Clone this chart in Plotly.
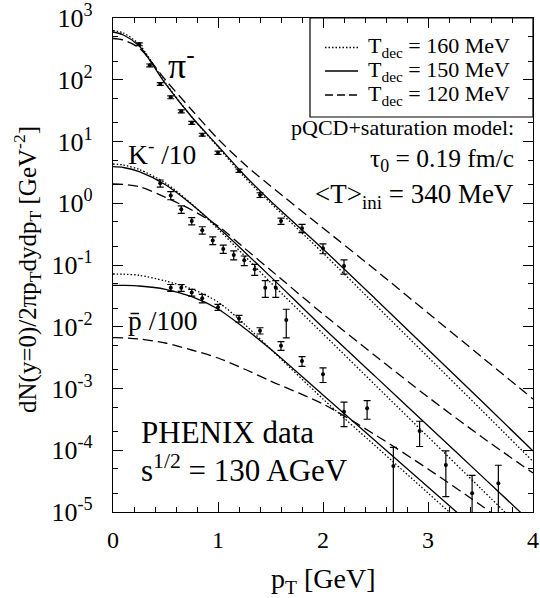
import plotly.graph_objects as go

# ---------------- data ----------------
# PHENIX data points
pi_pt = [0.25, 0.35, 0.45, 0.55, 0.65, 0.75, 0.85, 1.0, 1.2, 1.4, 1.6, 1.8, 2.0, 2.2]
pi_y = [375, 171, 85.3, 52, 30.8, 20.1, 12.9, 6.59, 3.37, 1.36, 0.516, 0.394, 0.186, 0.0964]
pi_err = [20, 9, 4.5, 2.8, 1.7, 1.1, 0.7, 0.4, 0.2, 0.12, 0.06, 0.06, 0.034, 0.025]

k_pt = [0.45, 0.55, 0.65, 0.75, 0.85, 0.95, 1.05, 1.15, 1.25, 1.35, 1.45, 1.55, 1.65]
k_y = [2.10, 1.34, 0.798, 0.516, 0.366, 0.249, 0.182, 0.145, 0.119, 0.0851, 0.0428, 0.0428, 0.0129]
k_err = [0.28, 0.2, 0.11, 0.07, 0.05, 0.036, 0.028, 0.024, 0.021, 0.017, 0.013, 0.013, 0.0063]

pbar_pt = [0.55, 0.65, 0.75, 0.85, 1.0, 1.2, 1.4, 1.6, 1.8, 2.0, 2.2, 2.42, 2.67, 2.92, 3.17, 3.42, 3.67]
pbar_y = [0.0428, 0.0428, 0.0359, 0.0289, 0.0207, 0.0136, 0.00863, 0.00493, 0.00279, 0.00170,
          4.21e-4, 4.78e-4, 5.56e-5, 2.05e-4, 5.77e-5, 2.01e-5, 2.92e-5]
pbar_err = [0.0055, 0.0055, 0.0045, 0.0045, 0.0023, 0.0017, 0.001, 0.0008, 0.0005, 0.00045,
            1.8e-4, 1.6e-4, 5.55e-5, 0.9e-4, 4.0e-5, 1.9e-5, 2.8e-5]

# model curves (hydro, three decoupling temperatures)
curve_pt = [0, 0.1, 0.25, 0.5, 0.75, 1.0, 1.25, 1.5, 2.0, 2.5, 3.0, 3.5, 4.0]

pi_160 = [628, 572, 372, 88.6, 24.9, 8.15, 2.66, 1.01, 0.1564, 0.02250, 0.003236, 4.66e-4, 6.57e-5]
pi_150 = [593, 531, 352, 85.4, 24.9, 8.46, 2.87, 1.087, 0.1816, 0.02813, 0.004281, 6.51e-4, 9.72e-5]
pi_120 = [466, 440, 327, 99.1, 32.4, 10.98, 4.32, 1.903, 0.3973, 0.0830, 0.01670, 0.003359, 6.76e-4]

k_160 = [4.32, 4.163, 3.521, 2.128, 0.9725, 0.3828, 0.1425, 0.05228, 0.007689, 0.001126, 1.657e-4, 2.429e-5, 3.57e-6]
k_150 = [3.907, 3.792, 3.243, 1.990, 0.9546, 0.4077, 0.1642, 0.06489, 0.009725, 0.001558, 2.489e-4, 3.99e-5, 6.39e-6]
k_120 = [2.050, 2.012, 1.854, 1.248, 0.7774, 0.4280, 0.1885, 0.0830, 0.01609, 0.003359, 7.28e-4, 1.701e-4, 4.28e-5]

pbar_160 = [0.07151, 0.07097, 0.06810, 0.05508, 0.04087, 0.02517, 0.01108, 0.004362, 6.76e-4, 1.172e-4, 2.031e-5, 3.52e-6, 6.1e-7]
pbar_150 = [0.04690, 0.04673, 0.04570, 0.04042, 0.03066, 0.01938, 0.009546, 0.004362, 7.85e-4, 1.412e-4, 2.54e-5, 4.57e-6, 8.2e-7]
pbar_120 = [0.006647, 0.006623, 0.006330, 0.005454, 0.004202, 0.003118, 0.002069, 0.001322, 5.61e-4, 1.766e-4, 4.97e-5, 1.298e-5, 3.15e-6]

y_tickvals = [1e-5, 1e-4, 1e-3, 1e-2, 1e-1, 1e0, 1e1, 1e2, 1e3]
y_ticktext = ["10<sup>-5</sup>", "10<sup>-4</sup>", "10<sup>-3</sup>", "10<sup>-2</sup>",
              "10<sup>-1</sup>", "10<sup>0</sup>", "10<sup>1</sup>", "10<sup>2</sup>", "10<sup>3</sup>"]
x_tickvals = [0, 1, 2, 3, 4]

legend_labels = ["T<sub>dec</sub> = 160 MeV", "T<sub>dec</sub> = 150 MeV", "T<sub>dec</sub> = 120 MeV"]

# ---------------- styling ----------------
FONT = "Liberation Serif"
W, H = 540, 598
L, R, T, B = 113, 7, 18, 86
PW, PH = W - L - R, H - T - B
DOT = "1.5px,2px"
DASH = "10px,5px"
styles = [DOT, "solid", DASH]


def px(xp):
    return (xp - L) / PW


def py(yp):
    return (H - B - yp) / PH


fig = go.Figure()

for curves in [(pi_160, pi_150, pi_120), (k_160, k_150, k_120), (pbar_160, pbar_150, pbar_120)]:
    for vals, st in zip(curves, styles):
        fig.add_trace(go.Scatter(x=curve_pt, y=vals, mode="lines",
                                 line=dict(color="black", width=1.3, dash=st, shape="spline", smoothing=0.8),
                                 showlegend=False, hoverinfo="skip"))

for xs, ys, es in [(pi_pt, pi_y, pi_err), (k_pt, k_y, k_err), (pbar_pt, pbar_y, pbar_err)]:
    fig.add_trace(go.Scatter(x=xs, y=ys, mode="markers",
                             marker=dict(color="black", size=4, symbol="circle"),
                             error_y=dict(type="data", array=es, color="black", thickness=1.2, width=3.5),
                             showlegend=False, cliponaxis=True))

axis_common = dict(showline=True, linecolor="black", linewidth=1.3, mirror="ticks",
                   ticks="inside", tickcolor="black", tickwidth=1.2, ticklen=10,
                   showgrid=False, zeroline=False, automargin=False)

fig.update_xaxes(range=[0, 4], tickvals=x_tickvals, ticklabelstandoff=6,
                 tickfont=dict(family=FONT, size=24, color="black"),
                 minor=dict(ticks="inside", ticklen=5, dtick=0.2, tickcolor="black", tickwidth=1.2, showgrid=False),
                 **axis_common)
fig.update_yaxes(type="log", range=[-5, 3], tickvals=y_tickvals, ticktext=y_ticktext, ticklabelstandoff=14,
                 tickfont=dict(family=FONT, size=26, color="black"),
                 minor=dict(ticks="inside", ticklen=5, tickcolor="black", tickwidth=1.2, showgrid=False),
                 **axis_common)

ann = []


def add_text(text, xp, yp, size, xanchor="left", yanchor="middle", angle=0):
    ann.append(dict(text=text, x=px(xp), y=py(yp), xref="paper", yref="paper",
                    xanchor=xanchor, yanchor=yanchor, showarrow=False, textangle=angle,
                    font=dict(family=FONT, size=size, color="black")))


add_text("π<sup>-</sup>", 166, 63, 36)
add_text("K<sup>-</sup> /10", 126, 153, 27.5)
add_text("p\u0304 /100", 126, 320, 27.5)
add_text("pQCD+saturation model:", 516, 127, 22, xanchor="right")
add_text("τ<sub>0</sub> = 0.19 fm/c", 516, 160, 25.5, xanchor="right")
add_text("&lt;T&gt;<sub>ini</sub> = 340 MeV", 516, 196, 27, xanchor="right")
add_text("PHENIX data", 139, 432, 31)
add_text("s<sup>1/2</sup> = 130 AGeV", 139, 468, 31)
add_text("p<sub>T</sub> [GeV]", 323, 580, 28, xanchor="center")
add_text("dN(y=0)/2πp<sub>T</sub>dydp<sub>T</sub> [GeV<sup>-2</sup>]", 27, 270, 25, xanchor="center", angle=-90)

# legend box drawn by hand
shapes = [dict(type="rect", xref="paper", yref="paper", x0=px(310), x1=px(533), y0=py(117), y1=py(18),
               line=dict(color="black", width=1.2), fillcolor="rgba(0,0,0,0)")]
rows = [47.5, 71, 95]
for lab, st, yr in zip(legend_labels, [DOT, "solid", "8px,4px"], rows):
    shapes.append(dict(type="line", xref="paper", yref="paper", x0=px(325), x1=px(358), y0=py(yr), y1=py(yr),
                       line=dict(color="black", width=1.3, dash=st)))
    add_text(lab, 366, yr, 22)

fig.update_layout(width=W, height=H, margin=dict(l=L, r=R, t=T, b=B),
                  paper_bgcolor="white", plot_bgcolor="white",
                  annotations=ann, shapes=shapes, showlegend=False)

fig.write_html("out.html", config={"displayModeBar": False},
               post_script="document.body.style.margin='0';document.body.style.overflow='hidden';")
